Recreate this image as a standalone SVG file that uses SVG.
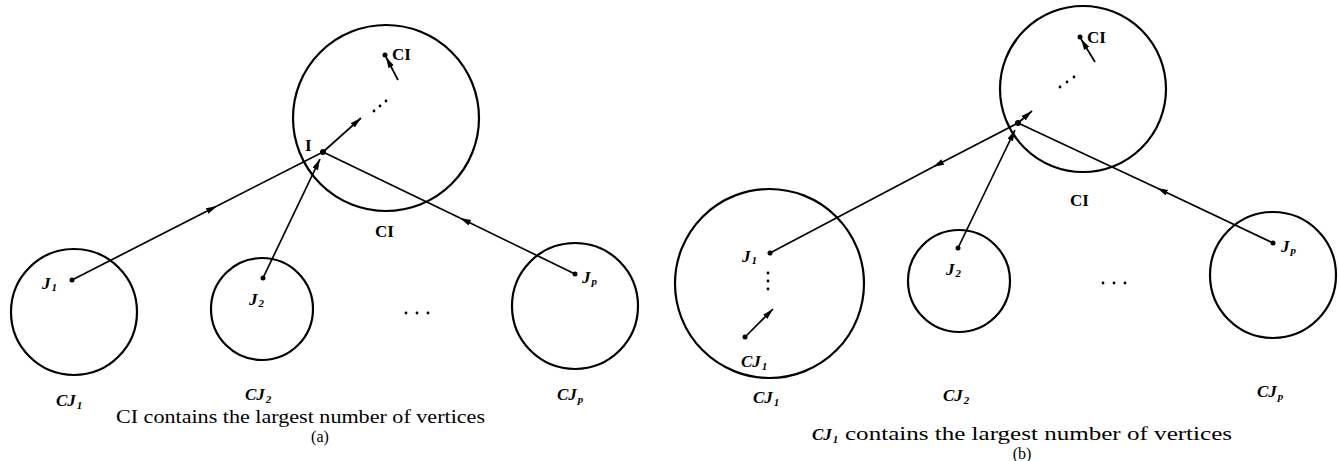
<svg xmlns="http://www.w3.org/2000/svg" width="1339" height="461" viewBox="0 0 1339 461">
<style>
.c{fill:none;stroke:#000;stroke-width:2.2}
.l{fill:none;stroke:#000;stroke-width:1.7}
.a{fill:none;stroke:#000;stroke-width:1.7;marker-end:url(#ah)}
.t{font-family:"Liberation Serif","Times New Roman",serif;font-weight:bold;font-size:17px;fill:#000}
.i{font-family:"Liberation Serif","Times New Roman",serif;font-weight:bold;font-style:italic;font-size:17px;fill:#000}
.s{font-size:11px}
.cap{font-family:"Liberation Serif","Times New Roman",serif;font-size:18px;fill:#000}
.p{font-family:"Liberation Serif","Times New Roman",serif;font-size:16px;fill:#000;text-anchor:middle}
</style>
<defs>
<marker id="ah" markerUnits="userSpaceOnUse" markerWidth="12" markerHeight="8" refX="11" refY="3" orient="auto">
<path d="M0,0 L11,3 L0,6 z" fill="#000"/>
</marker>
</defs>

<g id="panel-a">
<g id="a-CI"><circle class="c" cx="386" cy="118" r="93"/>
<text class="t" x="375" y="237">CI</text></g>
<g id="a-CJ1"><circle class="c" cx="74" cy="312" r="63"/>
<text class="i" x="56" y="406">CJ<tspan class="s" dx="1" dy="3">1</tspan></text></g>
<g id="a-CJ2"><circle class="c" cx="262" cy="309" r="51"/>
<text class="i" x="245" y="400">CJ<tspan class="s" dx="1" dy="3">2</tspan></text></g>
<g id="a-CJp"><circle class="c" cx="575" cy="306" r="63"/>
<text class="i" x="557" y="400">CJ<tspan class="s" dx="1" dy="3">p</tspan></text></g>

<g id="a-points">
<circle cx="323" cy="152" r="3"/>
<text class="t" x="305" y="151">I</text>
<circle cx="72" cy="280" r="2.5"/>
<text class="i" x="42" y="289">J<tspan class="s" dx="1" dy="2">1</tspan></text>
<circle cx="263" cy="278" r="2.5"/>
<text class="i" x="249" y="305">J<tspan class="s" dx="1" dy="2">2</tspan></text>
<circle cx="575" cy="274" r="2.5"/>
<text class="i" x="582" y="283">J<tspan class="s" dx="1" dy="2">p</tspan></text>
<circle cx="385" cy="55" r="2.5"/>
<text class="t" x="392" y="60">CI</text>
<circle cx="374" cy="111" r="1.4"/><circle cx="380" cy="106" r="1.4"/><circle cx="386" cy="101" r="1.4"/>
<circle cx="406" cy="313" r="1.4"/><circle cx="417" cy="313" r="1.4"/><circle cx="428" cy="313" r="1.4"/>
</g>
<g id="a-connectors">
<path class="a" d="M72,280 L217,206"/><path class="l" d="M217,206 L323,152"/>
<path class="a" d="M263,278 L320,159"/>
<path class="a" d="M575,274 L460,218"/><path class="l" d="M460,218 L323,152"/>
<path class="a" d="M323,152 L361,118"/>
<path class="a" d="M398,80 L386,57"/>
</g>
<text class="cap" x="116" y="423" textLength="369" lengthAdjust="spacingAndGlyphs">CI contains the largest number of vertices</text>
<text class="p" x="320" y="442">(a)</text>
</g>

<g id="panel-b">
<g id="b-CI"><circle class="c" cx="1083" cy="89" r="83"/>
<text class="t" x="1070" y="206">CI</text></g>
<g id="b-CJ1"><circle class="c" cx="769.5" cy="283.5" r="94.5"/>
<text class="i" x="753" y="403">CJ<tspan class="s" dx="1" dy="3">1</tspan></text></g>
<g id="b-CJ2"><circle class="c" cx="959" cy="281" r="51"/>
<text class="i" x="943" y="401">CJ<tspan class="s" dx="1" dy="3">2</tspan></text></g>
<g id="b-CJp"><circle class="c" cx="1273" cy="275" r="63"/>
<text class="i" x="1257" y="397">CJ<tspan class="s" dx="1" dy="3">p</tspan></text></g>

<g id="b-points">
<circle cx="1018" cy="123" r="3"/>
<circle cx="770" cy="253" r="2.5"/>
<text class="i" x="742" y="262">J<tspan class="s" dx="1" dy="2">1</tspan></text>
<circle cx="958" cy="248" r="2.5"/>
<text class="i" x="946" y="275">J<tspan class="s" dx="1" dy="2">2</tspan></text>
<circle cx="1273" cy="243" r="2.5"/>
<text class="i" x="1281" y="252">J<tspan class="s" dx="1" dy="2">p</tspan></text>
<circle cx="1080" cy="37" r="2.5"/>
<text class="t" x="1087" y="43">CI</text>
<circle cx="1060" cy="87" r="1.4"/><circle cx="1067" cy="82" r="1.4"/><circle cx="1074" cy="77" r="1.4"/>
<circle cx="768" cy="273" r="1.4"/><circle cx="768" cy="281" r="1.4"/><circle cx="768" cy="289" r="1.4"/>
<circle cx="745" cy="337" r="2.5"/>
<text class="i" x="741" y="367">CJ<tspan class="s" dx="1" dy="3">1</tspan></text>
<circle cx="1103" cy="283" r="1.4"/><circle cx="1114" cy="283" r="1.4"/><circle cx="1125" cy="283" r="1.4"/>
</g>
<g id="b-connectors">
<path class="a" d="M1018,123 L933,167"/><path class="l" d="M933,167 L770,253"/>
<path class="a" d="M958,248 L1015,130"/>
<path class="a" d="M1273,243 L1157,188"/><path class="l" d="M1157,188 L1018,123"/>
<path class="a" d="M1018,123 L1032,111"/>
<path class="a" d="M1095,62 L1081,39"/>
<path class="a" d="M745,337 L773,309"/>
</g>
<text class="i" x="812" y="440">CJ<tspan class="s" dx="1" dy="3">1</tspan></text>
<text class="cap" x="845" y="440" textLength="387" lengthAdjust="spacingAndGlyphs">contains the largest number of vertices</text>
<text class="p" x="1022" y="459">(b)</text>
</g>
</svg>
